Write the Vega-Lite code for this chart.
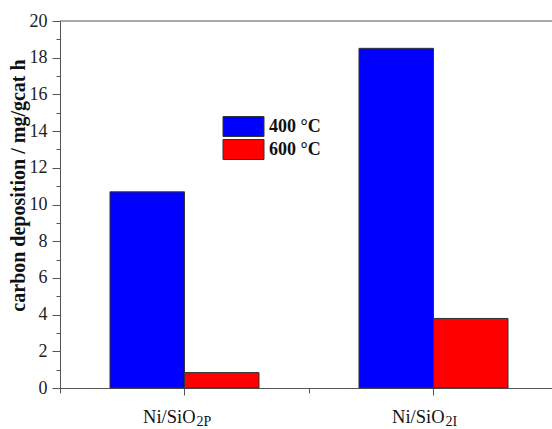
{
  "$schema": "https://vega.github.io/schema/vega-lite/v6.json",
  "width": 492,
  "height": 367,
  "autosize": "none",
  "padding": {"left": 60, "top": 21, "right": 0, "bottom": 41},
  "background": "white",
  "config": {"view": {"stroke": null}, "font": "Liberation Serif"},
  "datasets": {
    "deposits": [
      {"catalyst": "Ni/SiO2P", "temperature": "400 °C", "deposition": 10.69},
      {"catalyst": "Ni/SiO2P", "temperature": "600 °C", "deposition": 0.84},
      {"catalyst": "Ni/SiO2I", "temperature": "400 °C", "deposition": 18.51},
      {"catalyst": "Ni/SiO2I", "temperature": "600 °C", "deposition": 3.79}
    ],
    "labels": [
      {"catalyst": "Ni/SiO2P", "base": "Ni/SiO", "sub": "2P"},
      {"catalyst": "Ni/SiO2I", "base": "Ni/SiO", "sub": "2I"}
    ]
  },
  "layer": [
    {
      "data": {"name": "deposits"},
      "mark": {"type": "bar", "stroke": "#333", "strokeWidth": 1},
      "encoding": {
        "x": {
          "field": "catalyst",
          "type": "nominal",
          "sort": null,
          "scale": {"range": [0, 498], "paddingInner": 0, "paddingOuter": 0},
          "axis": {
            "orient": "bottom",
            "title": null,
            "labels": false,
            "domainColor": "#555",
            "tickColor": "#555",
            "tickSize": 7
          }
        },
        "xOffset": {
          "field": "temperature",
          "type": "nominal",
          "sort": null,
          "scale": {"paddingInner": 0, "paddingOuter": 0.671}
        },
        "y": {
          "field": "deposition",
          "type": "quantitative",
          "scale": {"domain": [0, 20], "nice": false},
          "axis": {
            "orient": "left",
            "title": "carbon deposition / mg/gcat h",
            "values": [0, 2, 4, 6, 8, 10, 12, 14, 16, 18, 20],
            "labelOverlap": false,
            "tickSize": 8,
            "grid": false,
            "domainColor": "#555",
            "tickColor": "#555",
            "labelFont": "Liberation Serif",
            "labelFontSize": 18,
            "labelColor": "#222",
            "labelPadding": 5,
            "titleFont": "Liberation Serif",
            "titleFontSize": 20,
            "titleFontWeight": "bold",
            "titleColor": "#111",
            "titleX": -36,
            "titleY": 164,
            "titleAngle": 270,
            "titleAlign": "center",
            "titleBaseline": "alphabetic"
          }
        },
        "color": {
          "field": "temperature",
          "type": "nominal",
          "scale": {"range": ["#0000ff", "#ff0000"]},
          "legend": {
            "title": null,
            "orient": "none",
            "legendX": 173,
            "legendY": 95,
            "padding": 0,
            "symbolType": "M-2.05,-1H2.05V1H-2.05Z",
            "symbolSize": 400,
            "symbolStrokeColor": "#333",
            "symbolStrokeWidth": 1,
            "labelFont": "Liberation Serif",
            "labelFontSize": 18,
            "labelFontWeight": "bold",
            "labelColor": "#111",
            "labelOffset": 15,
            "labelBaseline": "middle",
            "rowPadding": -3.5
          }
        }
      }
    },
    {
      "data": {"values": [{}]},
      "mark": {"type": "rule", "color": "#555", "strokeWidth": 1},
      "encoding": {"y": {"datum": 20, "axis": null}}
    },
    {
      "data": {"name": "labels"},
      "mark": {"type": "text", "align": "right", "baseline": "alphabetic", "dx": 11, "dy": 35, "fontSize": 18.5, "color": "#111"},
      "encoding": {
        "x": {
          "field": "catalyst",
          "type": "nominal",
          "sort": null,
          "axis": {
            "orient": "bottom",
            "title": null,
            "labels": false,
            "domain": false,
            "bandPosition": 0,
            "tickColor": "#555",
            "tickSize": 5
          }
        },
        "y": {
          "datum": 0,
          "axis": {
            "orient": "left",
            "title": null,
            "values": [1, 3, 5, 7, 9, 11, 13, 15, 17, 19],
            "labels": false,
            "domain": false,
            "grid": false,
            "tickColor": "#555",
            "tickSize": 4
          }
        },
        "text": {"field": "base"}
      }
    },
    {
      "data": {"name": "labels"},
      "mark": {"type": "text", "align": "left", "baseline": "alphabetic", "dx": 12, "dy": 38, "fontSize": 14, "color": "#111"},
      "encoding": {
        "x": {"field": "catalyst", "type": "nominal", "sort": null, "axis": null},
        "y": {"datum": 0, "axis": null},
        "text": {"field": "sub"}
      }
    }
  ],
  "resolve": {"axis": {"x": "independent", "y": "independent"}}
}
